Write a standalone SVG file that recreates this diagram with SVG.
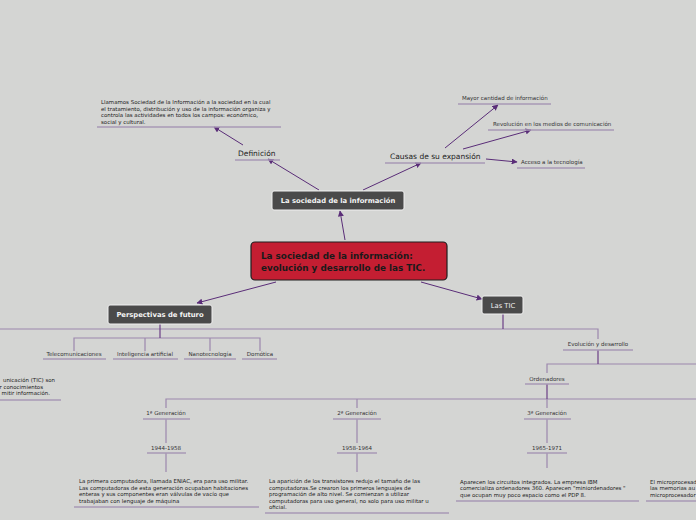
<svg xmlns="http://www.w3.org/2000/svg" width="696" height="520" viewBox="0 0 696 520">
<defs>
<marker id="arr" viewBox="0 0 10 10" refX="9" refY="5" markerWidth="6" markerHeight="6" markerUnits="userSpaceOnUse" orient="auto">
<path d="M0,0 L10,5 L0,10 z" fill="#5a2d78"/>
</marker>
</defs>
<style>
text{font-family:"DejaVu Sans","Verdana",sans-serif;fill:#333}
.lbl{font-size:7.5px;fill:#222}
.sm{font-size:5.5px;fill:#333}
.tx{font-size:5.45px;fill:#222}
.ul{stroke:#a898b6;stroke-width:1.3;fill:none}
.con{stroke:#5a2d78;stroke-width:1;fill:none;marker-end:url(#arr)}
.tree{stroke:#9c88ad;stroke-width:1.2;fill:none}
.stem{stroke:#6b3f86;stroke-width:1.2;fill:none}
.dark{fill:#4a4a4a;stroke:#f0f0f0;stroke-width:1}
.wt{fill:#f4f4f4;font-size:6.8px;font-weight:bold}
</style>
<rect width="696" height="520" fill="#d4d5d3"/>
<g id="connectors">
<line class="con" x1="345" y1="240" x2="340" y2="211"/>
<line class="con" x1="319" y1="190" x2="268" y2="159"/>
<line class="con" x1="243" y1="145" x2="214" y2="127"/>
<line class="con" x1="363" y1="190" x2="421" y2="163"/>
<line class="con" x1="445" y1="148" x2="498" y2="105"/>
<line class="con" x1="463" y1="149" x2="531" y2="130"/>
<line class="con" x1="486" y1="159" x2="517" y2="162"/>
<line class="con" x1="276" y1="282" x2="197" y2="303"/>
<line class="con" x1="421" y1="282" x2="482" y2="299"/>
<path class="tree" d="M0,329 H598 V339"/>
<path class="stem" d="M503,314 V329"/>
<path class="tree" d="M74,351 V338 H260 V351 M145,338 V351 M210,338 V351"/>
<path class="stem" d="M160,324 V338"/>
<path class="tree" d="M547,373 V364 H696"/>
<path class="stem" d="M598,350 V364"/>
<path class="tree" d="M166,408 V399 H696 M357,399 V408 M547,399 V408"/>
<path class="stem" d="M547,384 V399"/>
<path class="tree" d="M166,419 V443 M357,419 V443 M547,419 V443"/>
<path class="tree" d="M166,453 V472 M357,453 V472 M547,453 V468"/>
</g>
<g id="central">
<rect x="251" y="242" width="196" height="38" rx="4" fill="#c41e32" stroke="#1e1e1e" stroke-width="1.2"/>
<text x="261" y="259" style="font-size:8.8px;font-weight:bold;fill:#1a1a1a">La sociedad de la información:</text>
<text x="261" y="271" style="font-size:8.8px;font-weight:bold;fill:#1a1a1a">evolución y desarrollo de las TIC.</text>
</g>
<g id="sociedad">
<rect class="dark" x="272" y="191" width="132" height="19" rx="2"/>
<text class="wt" x="338" y="203" text-anchor="middle">La sociedad de la información</text>
</g>
<g id="definicion">
<text class="lbl" x="238" y="156">Definición</text>
<line class="ul" x1="235" y1="160" x2="280" y2="160"/>
</g>
<g id="definicion-texto">
<text class="tx" x="101" y="104">Llamamos Sociedad de la Información a la sociedad en la cual</text>
<text class="tx" x="101" y="110.5">el tratamiento, distribución y uso de la información organiza y</text>
<text class="tx" x="101" y="117">controla las actividades en todos los campos: económico,</text>
<text class="tx" x="101" y="123.5">social y cultural.</text>
<line class="ul" x1="97" y1="127" x2="281" y2="127"/>
</g>
<g id="causas">
<text class="lbl" x="390" y="159">Causas de su expansión</text>
<line class="ul" x1="385" y1="163" x2="485" y2="163"/>
</g>
<g id="mayor">
<text class="sm" x="462" y="100">Mayor cantidad de información</text>
<line class="ul" x1="458" y1="104" x2="551" y2="104"/>
</g>
<g id="revolucion">
<text class="sm" x="493" y="126">Revolución en los medios de comunicación</text>
<line class="ul" x1="488" y1="130" x2="614" y2="130"/>
</g>
<g id="acceso">
<text class="sm" x="521" y="164">Acceso a la tecnología</text>
<line class="ul" x1="517" y1="168" x2="585" y2="168"/>
</g>
<g id="perspectivas">
<rect class="dark" x="108" y="305" width="104" height="19" rx="2"/>
<text class="wt" x="160" y="317" text-anchor="middle">Perspectivas de futuro</text>
</g>
<g id="telecom">
<text class="sm" x="74" y="356" text-anchor="middle">Telecomunicaciones</text>
<line class="ul" x1="43" y1="359" x2="106" y2="359"/>
</g>
<g id="ia">
<text class="sm" x="145" y="356" text-anchor="middle">Inteligencia artificial</text>
<line class="ul" x1="113" y1="359" x2="178" y2="359"/>
</g>
<g id="nano">
<text class="sm" x="210" y="356" text-anchor="middle">Nanotecnología</text>
<line class="ul" x1="184" y1="359" x2="236" y2="359"/>
</g>
<g id="domotica">
<text class="sm" x="260" y="356" text-anchor="middle">Domótica</text>
<line class="ul" x1="242" y1="359" x2="277" y2="359"/>
</g>
<g id="tic-def">
<text class="tx" x="55" y="382" text-anchor="end">unicación (TIC) son</text>
<text class="tx" x="43" y="388.5" text-anchor="end">r conocimientos</text>
<text class="tx" x="50" y="395" text-anchor="end">mitir información.</text>
<line class="ul" x1="0" y1="400" x2="61" y2="400"/>
</g>
<g id="las-tic">
<rect class="dark" x="482" y="296" width="41" height="18" rx="2"/>
<text x="503" y="308" text-anchor="middle" style="fill:#f0f0f0;font-size:6.8px">Las TIC</text>
</g>
<g id="evolucion">
<text class="sm" x="598" y="346" text-anchor="middle">Evolución y desarrollo</text>
<line class="ul" x1="563" y1="350" x2="633" y2="350"/>
</g>
<g id="ordenadores">
<text class="sm" x="547" y="381" text-anchor="middle">Ordenadores</text>
<line class="ul" x1="525" y1="384" x2="569" y2="384"/>
</g>
<g id="gen1">
<text class="sm" x="166" y="415" text-anchor="middle">1ª Generación</text>
<line class="ul" x1="143" y1="419" x2="190" y2="419"/>
</g>
<g id="gen2">
<text class="sm" x="357" y="415" text-anchor="middle">2ª Generación</text>
<line class="ul" x1="333" y1="419" x2="381" y2="419"/>
</g>
<g id="gen3">
<text class="sm" x="547" y="415" text-anchor="middle">3ª Generación</text>
<line class="ul" x1="524" y1="419" x2="571" y2="419"/>
</g>
<g id="y1">
<text class="sm" x="166" y="450" text-anchor="middle">1944-1958</text>
<line class="ul" x1="147" y1="453" x2="186" y2="453"/>
</g>
<g id="y2">
<text class="sm" x="357" y="450" text-anchor="middle">1958-1964</text>
<line class="ul" x1="337" y1="453" x2="377" y2="453"/>
</g>
<g id="y3">
<text class="sm" x="547" y="450" text-anchor="middle">1965-1971</text>
<line class="ul" x1="527" y1="453" x2="567" y2="453"/>
</g>
<g id="gen1-texto">
<text class="tx" x="79" y="483">La primera computadora, llamada ENIAC, era para uso militar.</text>
<text class="tx" x="79" y="489.5">Las computadoras de esta generación ocupaban habitaciones</text>
<text class="tx" x="79" y="496">enteras y sus componentes eran válvulas de vacío que</text>
<text class="tx" x="79" y="502.5">trabajaban con lenguaje de máquina</text>
<line class="ul" x1="74" y1="507" x2="259" y2="507"/>
</g>
<g id="gen2-texto">
<text class="tx" x="269" y="483">La aparición de los transistores redujo el tamaño de las</text>
<text class="tx" x="269" y="489.5">computadoras.Se crearon los primeros lenguajes de</text>
<text class="tx" x="269" y="496">programación de alto nivel. Se comienzan a utilizar</text>
<text class="tx" x="269" y="502.5">computadoras para uso general, no solo para uso militar u</text>
<text class="tx" x="269" y="509">oficial.</text>
<line class="ul" x1="265" y1="513" x2="449" y2="513"/>
</g>
<g id="gen3-texto">
<text class="tx" x="460" y="483.5">Aparecen los circuitos integrados. La empresa IBM</text>
<text class="tx" x="460" y="490">comercializa ordenadores 360. Aparecen "miniordenadores "</text>
<text class="tx" x="460" y="496.5">que ocupan muy poco espacio como el PDP 8.</text>
<line class="ul" x1="456" y1="501" x2="639" y2="501"/>
</g>
<g id="gen4-texto">
<text class="tx" x="650" y="483.5">El microprocesad</text>
<text class="tx" x="650" y="490">las memorias au</text>
<text class="tx" x="650" y="496.5">microprocesador</text>
<line class="ul" x1="646" y1="501" x2="696" y2="501"/>
</g>
</svg>
